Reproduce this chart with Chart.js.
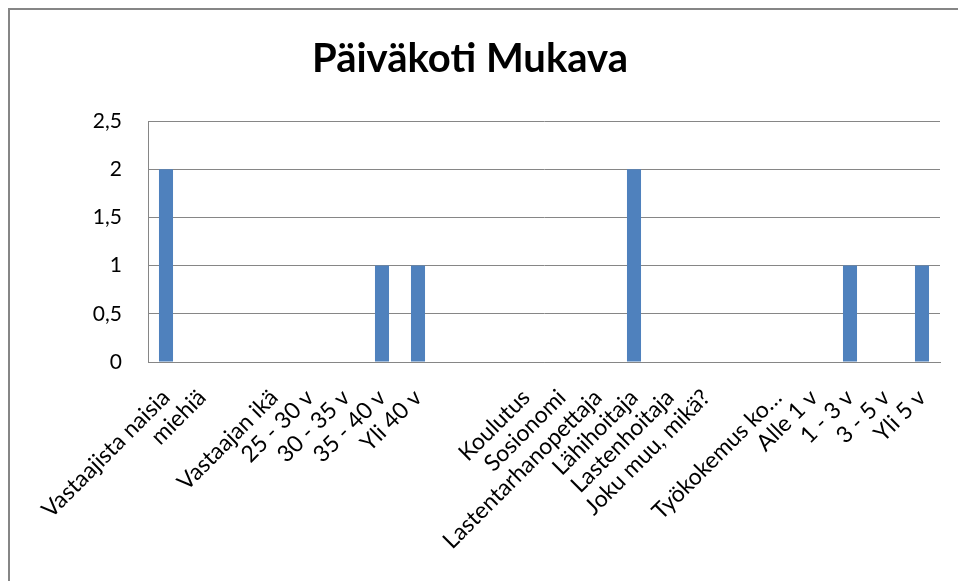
<!DOCTYPE html>
<html>
<head>
<meta charset="utf-8">
<script src="https://cdn.jsdelivr.net/npm/chart.js@4/dist/chart.umd.min.js"></script>
<style>
  html, body { margin: 0; padding: 0; background: #fff; }
  #wrap { position: relative; width: 958px; height: 581px; overflow: hidden; }
  #frame { position: absolute; left: 8px; top: 8px; width: 1000px; height: 700px;
           border-left: 2px solid #868686; border-top: 2px solid #868686; }
  canvas { position: absolute; left: 0; top: 0; }
</style>
</head>
<body>
<div id="wrap">
  <div id="frame"></div>
  <canvas id="chart" width="958" height="581"></canvas>
</div>
<script>
// kategoriat (tyhjät välit kuten alkuperäisessä)
const categories = [
  'Vastaajista naisia', 'miehiä', '', 'Vastaajan ikä', '25 - 30 v', '30 - 35 v',
  '35 - 40 v', 'Yli 40 v', '', '', 'Koulutus', 'Sosionomi', 'Lastentarhanopettaja',
  'Lähihoitaja', 'Lastenhoitaja', 'Joku muu, mikä?', '', 'Työkokemus ko…',
  'Alle 1 v', '1 - 3 v', '3 - 5 v', 'Yli 5 v'
];
const values = [2, 0, 0, 0, 0, 0, 1, 1, 0, 0, 0, 0, 0, 2, 0, 0, 0, 0, 0, 1, 0, 1];
const yTicks = [0, 0.5, 1, 1.5, 2, 2.5];

const FONT = 'Lato, "Open Sans", sans-serif';

const ctx = document.getElementById('chart').getContext('2d');
new Chart(ctx, {
  type: 'bar',
  data: {
    labels: categories,
    datasets: [{
      label: 'Päiväkoti Mukava',
      data: values,
      backgroundColor: '#4F81BD',
      borderWidth: 0,
      barPercentage: 0.39,
      categoryPercentage: 1
    }]
  },
  options: {
    responsive: false,
    animation: false,
    layout: { padding: { left: 0, right: 18, top: 0, bottom: 0 } },
    plugins: {
      legend: { display: false },
      tooltip: { enabled: false },
      title: {
        display: true,
        text: 'Päiväkoti Mukava',
        color: '#000',
        font: { family: FONT, size: 40, weight: 'bold' },
        padding: { top: 35, bottom: 38 }
      }
    },
    scales: {
      x: {
        grid: { display: false, drawTicks: false },
        border: { display: true, color: '#868686', width: 1 },
        ticks: {
          autoSkip: false,
          minRotation: 45,
          maxRotation: 45,
          padding: 22,
          color: '#000',
          font: { family: FONT, size: 23 }
        },
        afterFit: s => { s.height = 219; s.paddingRight = 0; s.paddingLeft = 0; }
      },
      y: {
        min: 0,
        max: 2.5,
        grid: { color: '#868686', lineWidth: 1, drawTicks: false },
        border: { display: true, color: '#868686', width: 1 },
        afterBuildTicks: s => { s.ticks = yTicks.map(v => ({ value: v })); },
        ticks: {
          padding: 26,
          color: '#000',
          font: { family: FONT, size: 21 },
          callback: v => String(v).replace('.', ',')
        },
        afterFit: s => { s.width = 148; }
      }
    }
  }
});
</script>
</body>
</html>
